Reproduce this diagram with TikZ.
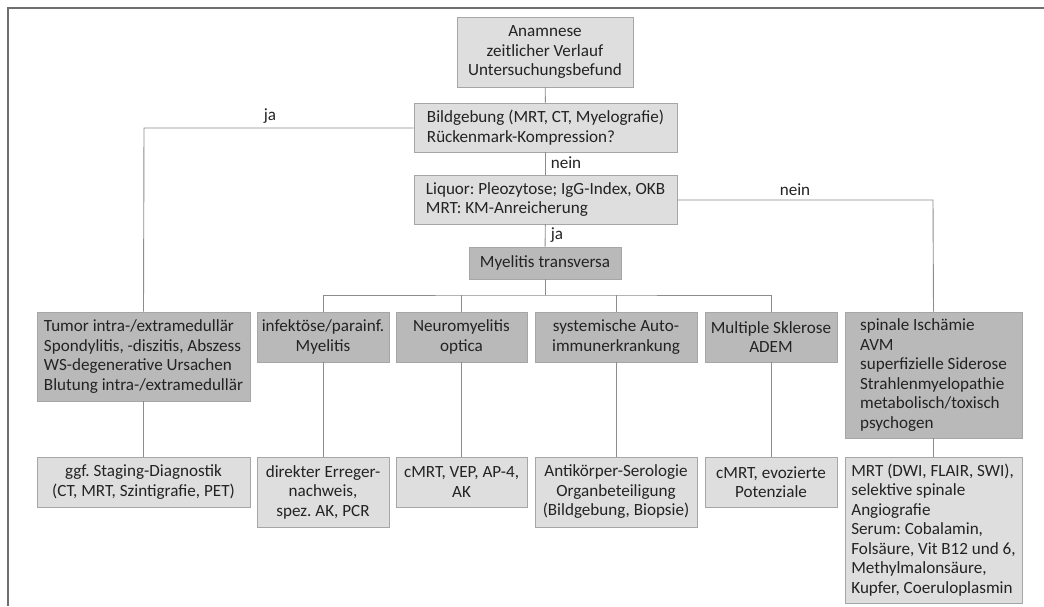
\documentclass[tikz,border=0pt]{standalone}
\usepackage{fontspec}
\setmainfont{Carlito}
\frenchspacing
\definecolor{lightfill}{HTML}{DEDEDE}
\definecolor{darkfill}{HTML}{B9B9B9}
\definecolor{boxline}{HTML}{A6A6A6}
\definecolor{conn}{HTML}{8C8C8C}
\definecolor{framecol}{HTML}{6E6E6E}
\definecolor{txt}{HTML}{232323}
\begin{document}
\begin{tikzpicture}[x=1pt,y=-1pt,
  base/.style={draw=boxline, line width=0.9pt, inner sep=1pt, text=txt,
    font=\fontsize{17.1}{19.5}\selectfont\frenchspacing},
  lbox/.style={base, fill=lightfill},
  dbox/.style={base, fill=darkfill},
  sz/.style 2 args={minimum width=#1pt, minimum height=#2pt},
  conline/.style={draw=conn, line width=0.9pt},
  lab/.style={text=txt, font=\fontsize{17.1}{19.5}\selectfont, inner sep=1pt}]
\useasboundingbox (0,0) rectangle (1044,606);
\draw[framecol, line width=1.6pt] (8,606) -- (8,8) -- (1044,8);

\node[lbox, sz={176}{70}, align=center] (anam) at (545,52) {Anamnese\\zeitlicher Verlauf\\Untersuchungsbefund};
\node[lbox, sz={263}{49}, align=left] (bild) at (545.5,127.5) {Bildgebung (MRT, CT, Myelografie)\\Rückenmark-Kompression?};
\node[lbox, sz={263}{49}, align=left] (liq) at (545.5,199.5) {Liquor: Pleozytose; IgG-Index, OKB\\MRT: KM-Anreicherung};
\node[dbox, sz={152}{32}, align=center] (myel) at (545,263) {Myelitis transversa};

\node[dbox, sz={213}{89}, align=left] (tumor) at (143.5,356.5) {Tumor intra-/extramedullär\\Spondylitis, -diszitis, Abszess\\WS-degenerative Ursachen\\Blutung intra-/extramedullär};
\node[dbox, sz={132}{50}, align=center] (infek) at (323,337) {infektöse/parainf.\\Myelitis};
\node[dbox, sz={131}{50}, align=center] (neuro) at (461.5,337) {Neuromyelitis\\optica};
\node[dbox, sz={162}{50}, align=center] (sys) at (616,337) {systemische Auto-\\immunerkrankung};
\node[dbox, sz={132}{50}, align=center] (ms) at (771,337) {Multiple Sklerose\\ADEM};
\node[dbox, sz={177}{126}, align=left] (spin) at (933.5,375) {spinale Ischämie\\AVM\\superfizielle Siderose\\Strahlenmyelopathie\\metabolisch/toxisch\\psychogen};

\node[lbox, sz={213}{50}, align=center] (ggf) at (143.5,482) {ggf. Staging-Diagnostik\\(CT, MRT, Szintigrafie, PET)};
\node[lbox, sz={132}{70}, align=center] (dir) at (323,492) {direkter Erreger-\\nachweis,\\spez. AK, PCR};
\node[lbox, sz={131}{50}, align=center] (cmrt) at (461.5,482) {cMRT, VEP, AP-4,\\AK};
\node[lbox, sz={162}{70}, align=center] (anti) at (616,492) {Antikörper-Serologie\\Organbeteiligung\\(Bildgebung, Biopsie)};
\node[lbox, sz={132}{50}, align=center] (evo) at (771,482) {cMRT, evozierte\\Potenziale};
\node[lbox, sz={177}{146}, align=left] (mrt) at (933.5,530) {MRT (DWI, FLAIR, SWI),\\selektive spinale\\Angiografie\\Serum: Cobalamin,\\Folsäure, Vit B12 und 6,\\Methylmalonsäure,\\Kupfer, Coeruloplasmin};

\coordinate (bus) at (545,295);
\coordinate (jaL) at (144,128);
\coordinate (neinR) at (933,200);

\draw[conline] (anam) -- (bild);
\draw[conline] (bild) -- (liq);
\draw[conline] (liq) -- (myel);
\draw[conline] (myel) -- (bus);
\draw[conline] (infek.north) |- (bus) -| (ms.north);
\draw[conline] (neuro.north) -- (neuro.north |- bus);
\draw[conline] (sys.north) -- (sys.north |- bus);
\draw[conline] (bild.west |- jaL) -- (jaL) -- (tumor.north);
\draw[conline] (liq.east |- neinR) -- (neinR) -- (spin.north);

\draw[conline] (tumor) -- (ggf);
\draw[conline] (infek) -- (dir);
\draw[conline] (neuro) -- (cmrt);
\draw[conline] (sys) -- (anti);
\draw[conline] (ms) -- (evo);
\draw[conline] (spin) -- (mrt);

\node[lab] (lja1) at (270,116) {ja};
\node[lab] (lnein1) at (566,163) {nein};
\node[lab] (lja2) at (557,235) {ja};
\node[lab] (lnein2) at (795,190) {nein};
\end{tikzpicture}
\end{document}
